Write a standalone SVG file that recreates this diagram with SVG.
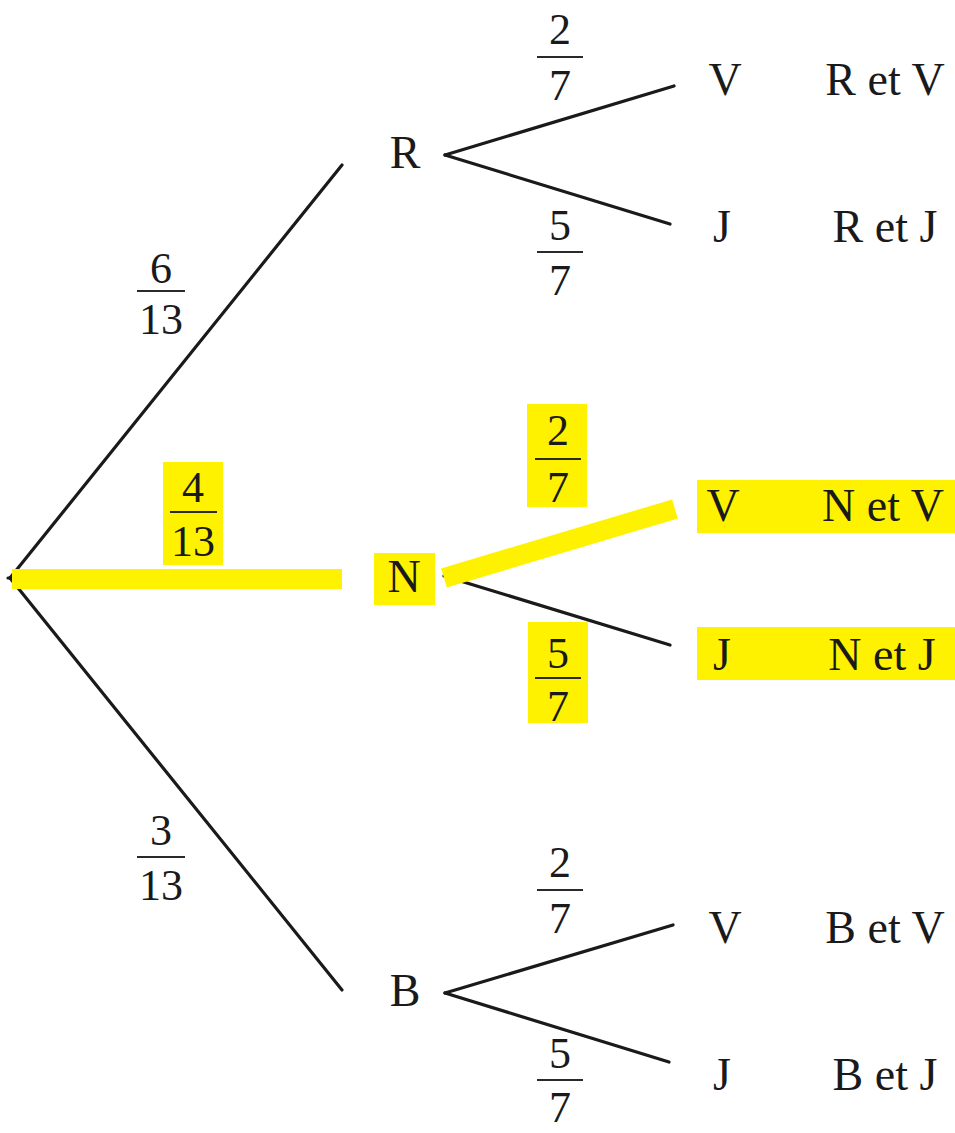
<svg xmlns="http://www.w3.org/2000/svg" width="955" height="1133" viewBox="0 0 955 1133">
<style>
  text { font-family: "Liberation Serif", "Times New Roman", serif; fill: #1a1a1a; }
  .lbl { font-size: 46px; text-anchor: middle; }
  .num { font-size: 44px; text-anchor: middle; }
  .bar { stroke: #2a2a2a; stroke-width: 2.2; }
  .edge { stroke: #1a1a1a; stroke-width: 3.2; fill: none; stroke-linecap: round; }
  .hl { fill: #fff200; }
  .hledge { stroke: #fff200; stroke-width: 20; fill: none; stroke-linecap: butt; }
</style>
<rect width="955" height="1133" fill="#ffffff"/>

<!-- highlight backgrounds -->
<g id="highlights">
  <rect class="hl" x="163" y="462" width="60" height="103"/>
  <rect class="hl" x="374" y="553" width="61" height="52"/>
  <rect class="hl" x="527" y="404" width="60" height="103"/>
  <rect class="hl" x="528" y="622" width="60" height="101"/>
  <rect class="hl" x="697" y="480" width="258" height="53"/>
  <rect class="hl" x="697" y="627" width="258" height="53"/>
</g>

<g id="connectors">
  <line class="edge" x1="10" y1="578" x2="342" y2="165"/>
  <line class="edge" x1="10" y1="578" x2="342" y2="990"/>
  <line class="edge" x1="8" y1="578" x2="14" y2="578"/>
  <line class="hledge" x1="12" y1="579" x2="342" y2="579"/>
  <line class="edge" x1="445" y1="155" x2="674" y2="86"/>
  <line class="edge" x1="445" y1="155" x2="670" y2="224"/>
  <line class="edge" x1="444" y1="576" x2="670" y2="645"/>
  <line class="hledge" x1="444" y1="578" x2="675" y2="509"/>
  <line class="edge" x1="445" y1="993" x2="673" y2="925"/>
  <line class="edge" x1="445" y1="993" x2="669" y2="1062"/>
</g>

<g id="node-R"><text class="lbl" x="405" y="168">R</text></g>
<g id="node-N"><text class="lbl" x="404" y="592">N</text></g>
<g id="node-B"><text class="lbl" x="405" y="1006">B</text></g>

<g id="node-RV"><text class="lbl" x="725" y="95">V</text><text class="lbl" x="885" y="95">R et V</text></g>
<g id="node-RJ"><text class="lbl" x="722" y="242">J</text><text class="lbl" x="885" y="242">R et J</text></g>
<g id="node-NV"><text class="lbl" x="723" y="521">V</text><text class="lbl" x="883" y="521">N et V</text></g>
<g id="node-NJ"><text class="lbl" x="722" y="670">J</text><text class="lbl" x="882" y="670">N et J</text></g>
<g id="node-BV"><text class="lbl" x="725" y="943">V</text><text class="lbl" x="885" y="943">B et V</text></g>
<g id="node-BJ"><text class="lbl" x="722" y="1090">J</text><text class="lbl" x="885" y="1090">B et J</text></g>

<g id="frac-R">
  <text class="num" x="161" y="283">6</text>
  <line class="bar" x1="137" y1="291" x2="185" y2="291"/>
  <text class="num" x="161" y="334">13</text>
</g>
<g id="frac-N">
  <text class="num" x="193" y="502">4</text>
  <line class="bar" x1="170" y1="512" x2="217" y2="512"/>
  <text class="num" x="193" y="556">13</text>
</g>
<g id="frac-B">
  <text class="num" x="161" y="845">3</text>
  <line class="bar" x1="137" y1="857" x2="185" y2="857"/>
  <text class="num" x="161" y="900">13</text>
</g>

<g id="frac-RV">
  <text class="num" x="560" y="44">2</text>
  <line class="bar" x1="537" y1="57" x2="583" y2="57"/>
  <text class="num" x="560" y="100">7</text>
</g>
<g id="frac-RJ">
  <text class="num" x="560" y="240">5</text>
  <line class="bar" x1="537" y1="252" x2="583" y2="252"/>
  <text class="num" x="560" y="295">7</text>
</g>
<g id="frac-NV">
  <text class="num" x="558" y="445">2</text>
  <line class="bar" x1="535" y1="459" x2="581" y2="459"/>
  <text class="num" x="558" y="502">7</text>
</g>
<g id="frac-NJ">
  <text class="num" x="558" y="668">5</text>
  <line class="bar" x1="535" y1="678" x2="581" y2="678"/>
  <text class="num" x="558" y="721">7</text>
</g>
<g id="frac-BV">
  <text class="num" x="560" y="877">2</text>
  <line class="bar" x1="537" y1="890" x2="583" y2="890"/>
  <text class="num" x="560" y="933">7</text>
</g>
<g id="frac-BJ">
  <text class="num" x="560" y="1068">5</text>
  <line class="bar" x1="537" y1="1080" x2="583" y2="1080"/>
  <text class="num" x="560" y="1122">7</text>
</g>
</svg>
